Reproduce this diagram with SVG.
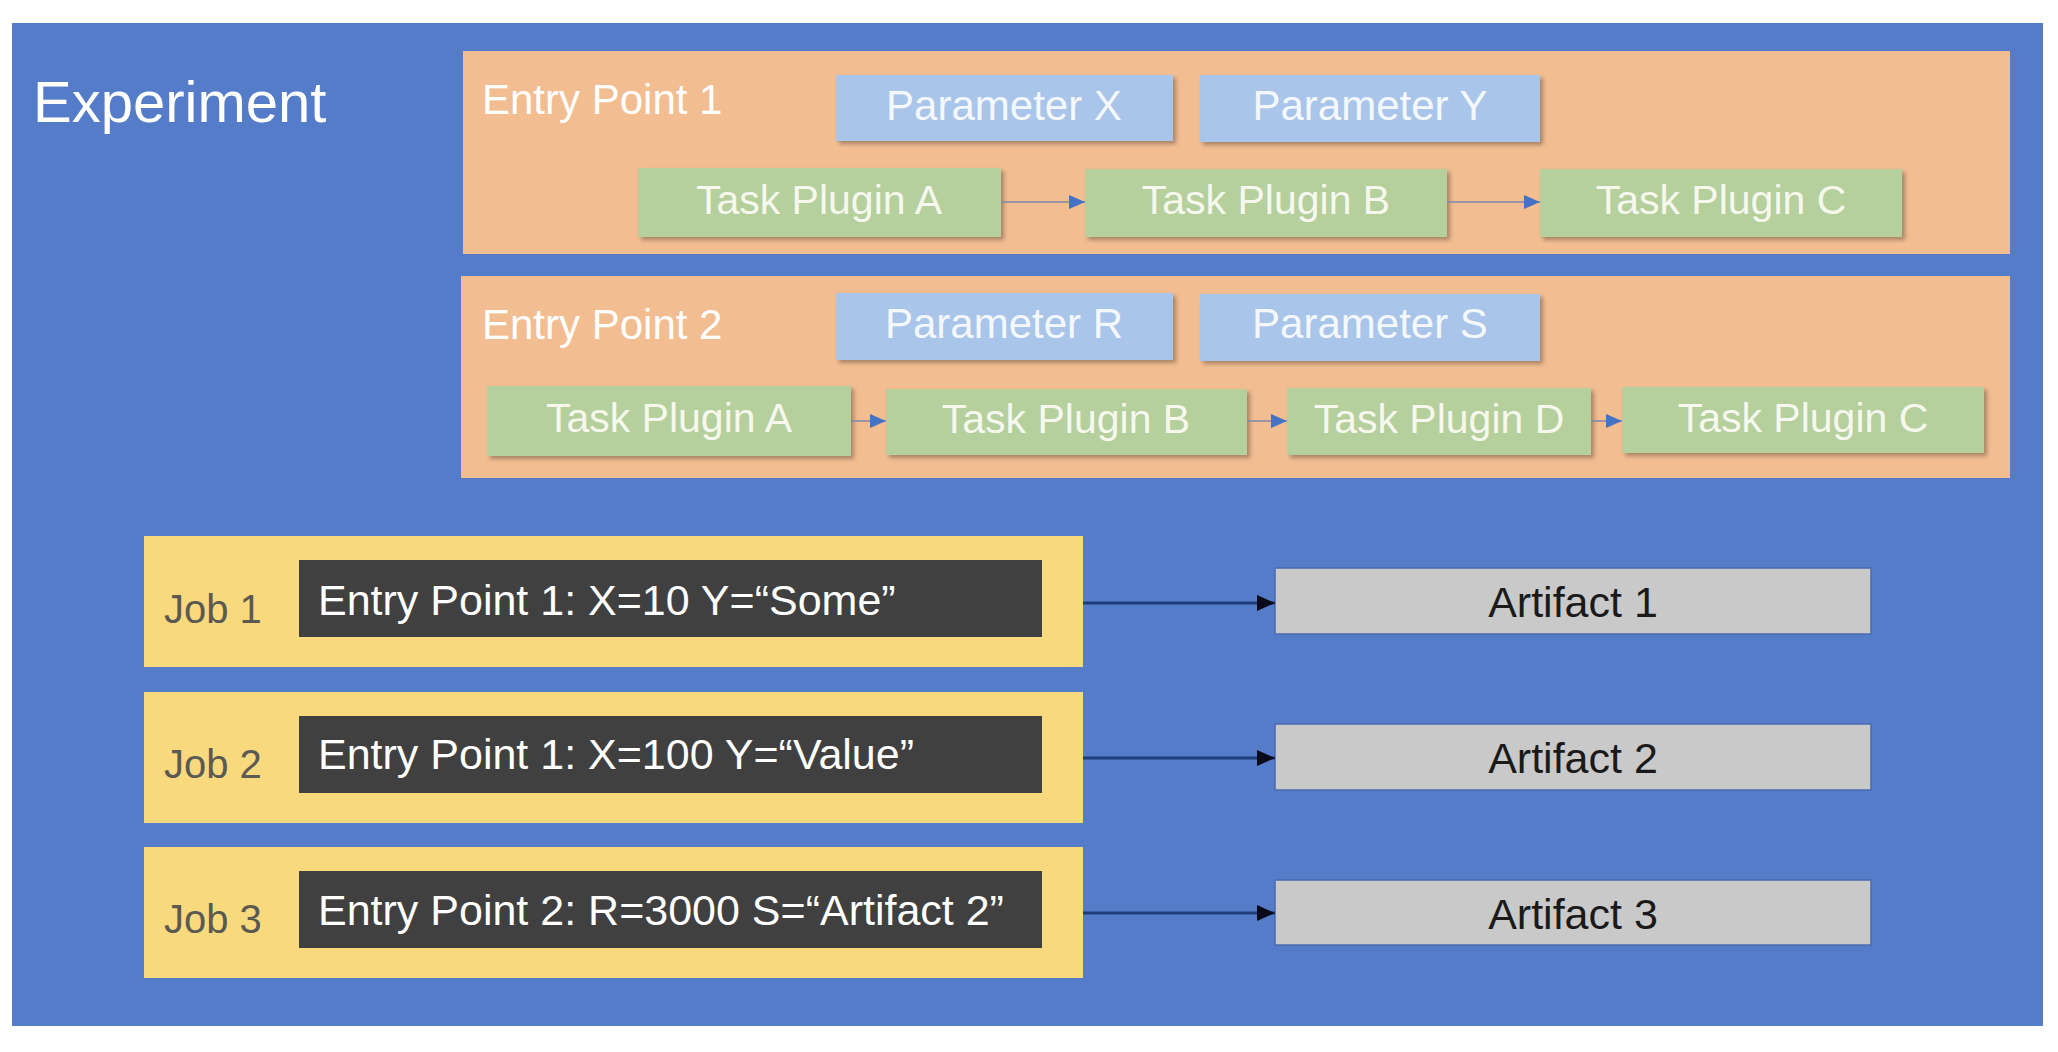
<svg xmlns="http://www.w3.org/2000/svg" width="2058" height="1052" viewBox="0 0 2058 1052">
<defs>
<style>
text{font-family:"Liberation Sans",Arial,sans-serif}
.ep{fill:#F2BD91}
.param{fill:#A9C5E9;filter:url(#sh)}
.task{fill:#B5CF9D;filter:url(#sh)}
.job{fill:#F9D97E}
.dark{fill:#404040}
.art{fill:#C9C9C9;stroke:#4A6AAE;stroke-width:1.5}
.wt{fill:#FFFFFF;font-size:42px}
.lt{fill:#F6F8EE;font-size:41px;text-anchor:middle}
.pt{fill:#F4F8FD;font-size:42px;text-anchor:middle}
.jl{fill:#5A5A52;font-size:40px}
.jt{fill:#FFFFFF;font-size:43px}
.at{fill:#1A1A1A;font-size:43px;text-anchor:middle}
.c1{stroke:#7D88AC;stroke-width:1.6;fill:none;marker-end:url(#ab)}
.c2{stroke:#1F3D7D;stroke-width:3;fill:none;marker-end:url(#ak)}
</style>
<filter id="sh" x="-5%" y="-10%" width="115%" height="130%">
<feDropShadow dx="3" dy="3" stdDeviation="2" flood-color="#000" flood-opacity="0.3"/>
</filter>
<marker id="ab" markerUnits="userSpaceOnUse" markerWidth="16" markerHeight="14" refX="16" refY="7" orient="auto">
<path d="M0,0 L16,7 L0,14 Z" fill="#4472C4"/>
</marker>
<marker id="ak" markerUnits="userSpaceOnUse" markerWidth="18" markerHeight="16" refX="18" refY="8" orient="auto">
<path d="M0,0 L18,8 L0,16 Z" fill="#0A0A1A"/>
</marker>
</defs>
<rect x="0" y="0" width="2058" height="1052" fill="#FFFFFF"/>
<g id="experiment">
<rect x="12" y="23" width="2031" height="1003" fill="#557CC8"/>
<text x="33" y="122" fill="#FFFFFF" style="font-size:58px">Experiment</text>
</g>
<g id="entry-point-1">
<rect class="ep" x="463" y="51" width="1547" height="203"/>
<text class="wt" x="482" y="114">Entry Point 1</text>
</g>
<g id="param-x"><rect class="param" x="836" y="75" width="337" height="66"/><text class="pt" x="1004" y="120">Parameter X</text></g>
<g id="param-y"><rect class="param" x="1200" y="75" width="340" height="67"/><text class="pt" x="1370" y="120">Parameter Y</text></g>
<g id="ep1-task-a"><rect class="task" x="638" y="168" width="363" height="69"/><text class="lt" x="819" y="214">Task Plugin A</text></g>
<g id="ep1-task-b"><rect class="task" x="1085" y="169" width="362" height="68"/><text class="lt" x="1266" y="214">Task Plugin B</text></g>
<g id="ep1-task-c"><rect class="task" x="1540" y="169" width="362" height="68"/><text class="lt" x="1721" y="214">Task Plugin C</text></g>
<g id="entry-point-2">
<rect class="ep" x="461" y="276" width="1549" height="202"/>
<text class="wt" x="482" y="339">Entry Point 2</text>
</g>
<g id="param-r"><rect class="param" x="836" y="293" width="337" height="67"/><text class="pt" x="1004" y="338">Parameter R</text></g>
<g id="param-s"><rect class="param" x="1200" y="294" width="340" height="67"/><text class="pt" x="1370" y="338">Parameter S</text></g>
<g id="ep2-task-a"><rect class="task" x="487" y="386" width="364" height="70"/><text class="lt" x="669" y="432">Task Plugin A</text></g>
<g id="ep2-task-b"><rect class="task" x="886" y="389" width="361" height="66"/><text class="lt" x="1066" y="433">Task Plugin B</text></g>
<g id="ep2-task-d"><rect class="task" x="1287" y="388" width="304" height="67"/><text class="lt" x="1439" y="433">Task Plugin D</text></g>
<g id="ep2-task-c"><rect class="task" x="1622" y="387" width="362" height="66"/><text class="lt" x="1803" y="432">Task Plugin C</text></g>
<g id="job-1">
<rect class="job" x="144" y="536" width="939" height="131"/>
<text class="jl" x="164" y="623">Job 1</text>
<rect class="dark" x="299" y="560" width="743" height="77"/>
<text class="jt" x="318" y="615">Entry Point 1: X=10 Y=“Some”</text>
</g>
<g id="job-2">
<rect class="job" x="144" y="692" width="939" height="131"/>
<text class="jl" x="164" y="778">Job 2</text>
<rect class="dark" x="299" y="716" width="743" height="77"/>
<text class="jt" x="318" y="769">Entry Point 1: X=100 Y=“Value”</text>
</g>
<g id="job-3">
<rect class="job" x="144" y="847" width="939" height="131"/>
<text class="jl" x="164" y="933">Job 3</text>
<rect class="dark" x="299" y="871" width="743" height="77"/>
<text class="jt" x="318" y="925">Entry Point 2: R=3000 S=“Artifact 2”</text>
</g>
<g id="artifact-1"><rect class="art" x="1275" y="568" width="596" height="66"/><text class="at" x="1573" y="617">Artifact 1</text></g>
<g id="artifact-2"><rect class="art" x="1275" y="724" width="596" height="66"/><text class="at" x="1573" y="773">Artifact 2</text></g>
<g id="artifact-3"><rect class="art" x="1275" y="880" width="596" height="65"/><text class="at" x="1573" y="929">Artifact 3</text></g>
<g id="connectors">
<line class="c1" x1="1001" y1="202" x2="1085" y2="202"/>
<line class="c1" x1="1447" y1="202" x2="1540" y2="202"/>
<line class="c1" x1="851" y1="421" x2="886" y2="421"/>
<line class="c1" x1="1247" y1="421" x2="1287" y2="421"/>
<line class="c1" x1="1591" y1="421" x2="1622" y2="421"/>
<line class="c2" x1="1083" y1="603" x2="1275" y2="603"/>
<line class="c2" x1="1083" y1="758" x2="1275" y2="758"/>
<line class="c2" x1="1083" y1="913" x2="1275" y2="913"/>
</g>
</svg>
